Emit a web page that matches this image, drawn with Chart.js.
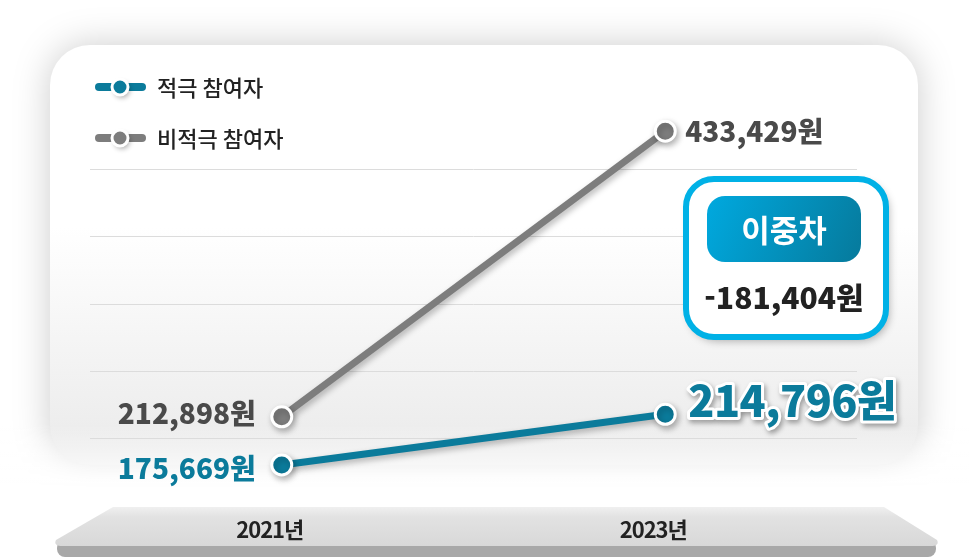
<!DOCTYPE html>
<html lang="ko">
<head>
<meta charset="utf-8">
<script src="https://cdn.jsdelivr.net/npm/chart.js@4/dist/chart.umd.min.js"></script>
<style>
  html, body { margin: 0; padding: 0; background: #fff; }
  #wrap { position: relative; width: 969px; height: 560px; }
</style>
</head>
<body>
<div id="wrap"><canvas id="diffChart"></canvas></div>
<script>
// chart data
const years = ["2021년", "2023년"];
const seriesNames = ["적극 참여자", "비적극 참여자"];
const activeValues = [175669, 214796];
const passiveValues = [212898, 433429];
const diffTitle = "이중차";

const TEAL = "#0b7b9b";
const GRAY = "#7d7d7d";
const FONT = "'Noto Sans CJK KR', 'Noto Sans', sans-serif";

// difference-in-differences shown in the box
const diffValue = (activeValues[1] - activeValues[0]) - (passiveValues[1] - passiveValues[0]);

const won = (v) => (v < 0 ? "-" : "") + Math.abs(v).toLocaleString("en-US") + "원";

function roundRect(ctx, x, y, w, h, r) {
  ctx.beginPath();
  ctx.moveTo(x + r, y);
  ctx.arcTo(x + w, y, x + w, y + h, r);
  ctx.arcTo(x + w, y + h, x, y + h, r);
  ctx.arcTo(x, y + h, x, y, r);
  ctx.arcTo(x, y, x + w, y, r);
  ctx.closePath();
}

// Background panel, bottom base and year labels
const backdrop = {
  id: "backdrop",
  beforeDraw(chart) {
    const ctx = chart.ctx;
    ctx.save();
    // panel with soft shadow
    ctx.shadowColor = "rgba(0,0,0,0.2)";
    ctx.shadowBlur = 36;
    const g = ctx.createLinearGradient(0, 45, 0, 450);
    g.addColorStop(0, "#ffffff");
    g.addColorStop(0.45, "#ffffff");
    g.addColorStop(1, "#ebebeb");
    ctx.fillStyle = g;
    roundRect(ctx, 50, 45, 868, 420, 40);
    ctx.fill();
    ctx.restore();

    // fade the panel out at the bottom
    ctx.save();
    const f = ctx.createLinearGradient(0, 425, 0, 490);
    f.addColorStop(0, "rgba(255,255,255,0)");
    f.addColorStop(1, "rgba(255,255,255,1)");
    ctx.fillStyle = f;
    ctx.fillRect(0, 425, 969, 135);
    ctx.restore();

    // base bar
    ctx.save();
    ctx.fillStyle = "#a8a8a8";
    roundRect(ctx, 57, 540, 879, 17, 8);
    ctx.fill();
    const bg = ctx.createLinearGradient(0, 507, 0, 546);
    bg.addColorStop(0, "#f0f0f0");
    bg.addColorStop(0.25, "#e2e2e2");
    bg.addColorStop(1, "#d8d8d8");
    ctx.fillStyle = bg;
    ctx.beginPath();
    ctx.moveTo(113, 507);
    ctx.lineTo(884, 507);
    ctx.lineTo(937, 540);
    ctx.quadraticCurveTo(940, 546, 930, 546);
    ctx.lineTo(63, 546);
    ctx.quadraticCurveTo(53, 546, 56, 540);
    ctx.closePath();
    ctx.fill();
    ctx.restore();

    // year labels
    const xs = chart.scales.x;
    ctx.save();
    ctx.font = "bold 22px " + FONT;
    ctx.letterSpacing = "-1px";
    ctx.fillStyle = "#222";
    ctx.textAlign = "center";
    ctx.textBaseline = "middle";
    years.forEach((y, i) => ctx.fillText(y, xs.getPixelForValue(i) - 12, 530));
    ctx.restore();
  },
  beforeDatasetsDraw(chart) {
    const ctx = chart.ctx;
    ctx.save();
    ctx.shadowColor = "rgba(0,0,0,0.28)";
    ctx.shadowBlur = 6;
    ctx.shadowOffsetX = 2;
    ctx.shadowOffsetY = 3;
  },
  afterDatasetsDraw(chart) {
    chart.ctx.restore();
  }
};

// Legend, value labels and difference box
const overlay = {
  id: "overlay",
  afterDraw(chart) {
    const ctx = chart.ctx;

    // legend: active series first, as in the legend order of seriesNames
    seriesNames.forEach((name, i) => {
      const ds = chart.data.datasets.find((d) => d.label === name);
      const y = 87 + i * 51;
      ctx.save();
      ctx.strokeStyle = ds.borderColor;
      ctx.lineWidth = 8;
      ctx.lineCap = "round";
      ctx.beginPath();
      ctx.moveTo(99, y);
      ctx.lineTo(142, y);
      ctx.stroke();
      ctx.shadowColor = "rgba(0,0,0,0.3)";
      ctx.shadowBlur = 5;
      ctx.shadowOffsetX = 2;
      ctx.shadowOffsetY = 3;
      ctx.beginPath();
      ctx.arc(120, y, 8, 0, Math.PI * 2);
      ctx.fillStyle = ds.borderColor;
      ctx.fill();
      ctx.shadowColor = "transparent";
      ctx.lineWidth = 3;
      ctx.strokeStyle = "#fff";
      ctx.stroke();
      ctx.fillStyle = "#222";
      ctx.font = "500 22px " + FONT;
      ctx.textBaseline = "middle";
      ctx.fillText(name, 157, y + 1);
      ctx.restore();
    });

    // value labels
    const pts = (i) => chart.getDatasetMeta(i).data;
    const pasv = pts(0), actv = pts(1);
    ctx.save();
    ctx.textBaseline = "middle";
    ctx.letterSpacing = "0px";
    ctx.font = "900 28px " + FONT;
    ctx.fillStyle = "#4a4a4a";
    ctx.textAlign = "right";
    ctx.fillText(won(passiveValues[0]), pasv[0].x - 26, pasv[0].y - 3);
    ctx.fillStyle = TEAL;
    ctx.fillText(won(activeValues[0]), actv[0].x - 26, actv[0].y + 3);
    ctx.fillStyle = "#4a4a4a";
    ctx.textAlign = "left";
    ctx.fillText(won(passiveValues[1]), pasv[1].x + 20, pasv[1].y);

    // highlighted last value
    ctx.font = "900 43px " + FONT;
    ctx.letterSpacing = "-0.5px";
    const bx = actv[1].x + 23, by = actv[1].y - 14;
    ctx.shadowColor = "rgba(0,0,0,0.35)";
    ctx.shadowBlur = 5;
    ctx.shadowOffsetX = 2;
    ctx.shadowOffsetY = 3;
    ctx.lineJoin = "round";
    ctx.lineWidth = 6;
    ctx.strokeStyle = "#fff";
    ctx.strokeText(won(activeValues[1]), bx, by);
    ctx.shadowColor = "transparent";
    ctx.fillStyle = TEAL;
    ctx.fillText(won(activeValues[1]), bx, by);
    ctx.restore();

    // difference box
    ctx.save();
    ctx.shadowColor = "rgba(0,0,0,0.3)";
    ctx.shadowBlur = 8;
    ctx.shadowOffsetX = 3;
    ctx.shadowOffsetY = 4;
    roundRect(ctx, 686, 179, 200, 158, 28);
    ctx.fillStyle = "#fff";
    ctx.fill();
    ctx.shadowColor = "transparent";
    ctx.lineWidth = 6;
    ctx.strokeStyle = "#00b1e6";
    ctx.stroke();
    const pg = ctx.createLinearGradient(707, 196, 860, 262);
    pg.addColorStop(0, "#00a9df");
    pg.addColorStop(1, "#067a9c");
    ctx.fillStyle = pg;
    roundRect(ctx, 707, 196, 154, 66, 18);
    ctx.fill();
    ctx.fillStyle = "#fff";
    ctx.font = "bold 31px " + FONT;
    ctx.textAlign = "center";
    ctx.textBaseline = "middle";
    ctx.fillText(diffTitle, 784, 230);
    ctx.fillStyle = "#222";
    ctx.letterSpacing = "0px";
    ctx.font = "900 30px " + FONT;
    ctx.fillText(won(diffValue), 784, 298);
    ctx.restore();
  }
};

const ctx = document.getElementById("diffChart").getContext("2d");
new Chart(ctx, {
  type: "line",
  data: {
    labels: years,
    datasets: [
      {
        label: seriesNames[1],
        data: passiveValues,
        borderColor: GRAY,
        backgroundColor: GRAY,
      },
      {
        label: seriesNames[0],
        data: activeValues,
        borderColor: TEAL,
        backgroundColor: TEAL,
      },
    ].map((d) => Object.assign(d, {
      borderWidth: 7,
      pointRadius: 10,
      pointBorderWidth: 3,
      pointBorderColor: "#fff",
      pointBackgroundColor: d.borderColor,
      tension: 0,
      clip: false,
    })),
  },
  options: {
    responsive: true,
    maintainAspectRatio: false,
    animation: false,
    events: [],
    layout: {
      autoPadding: false,
      padding: { left: 90, right: 112, top: 102, bottom: 54 },
    },
    plugins: {
      legend: { display: false },
      tooltip: { enabled: false },
    },
    scales: {
      x: {
        display: false,
        offset: true,
      },
      y: {
        min: 144000,
        max: 456000,
        afterFit: (s) => { s.width = 0; },
        border: { display: false },
        ticks: { display: false, stepSize: 52000 },
        grid: {
          drawTicks: false,
          lineWidth: 1,
          color: (c) => (c.tick && (c.tick.value === 144000 || c.tick.value === 456000))
            ? "rgba(0,0,0,0)" : "#dcdcdc",
        },
      },
    },
  },
  plugins: [backdrop, overlay],
});
</script>
</body>
</html>
